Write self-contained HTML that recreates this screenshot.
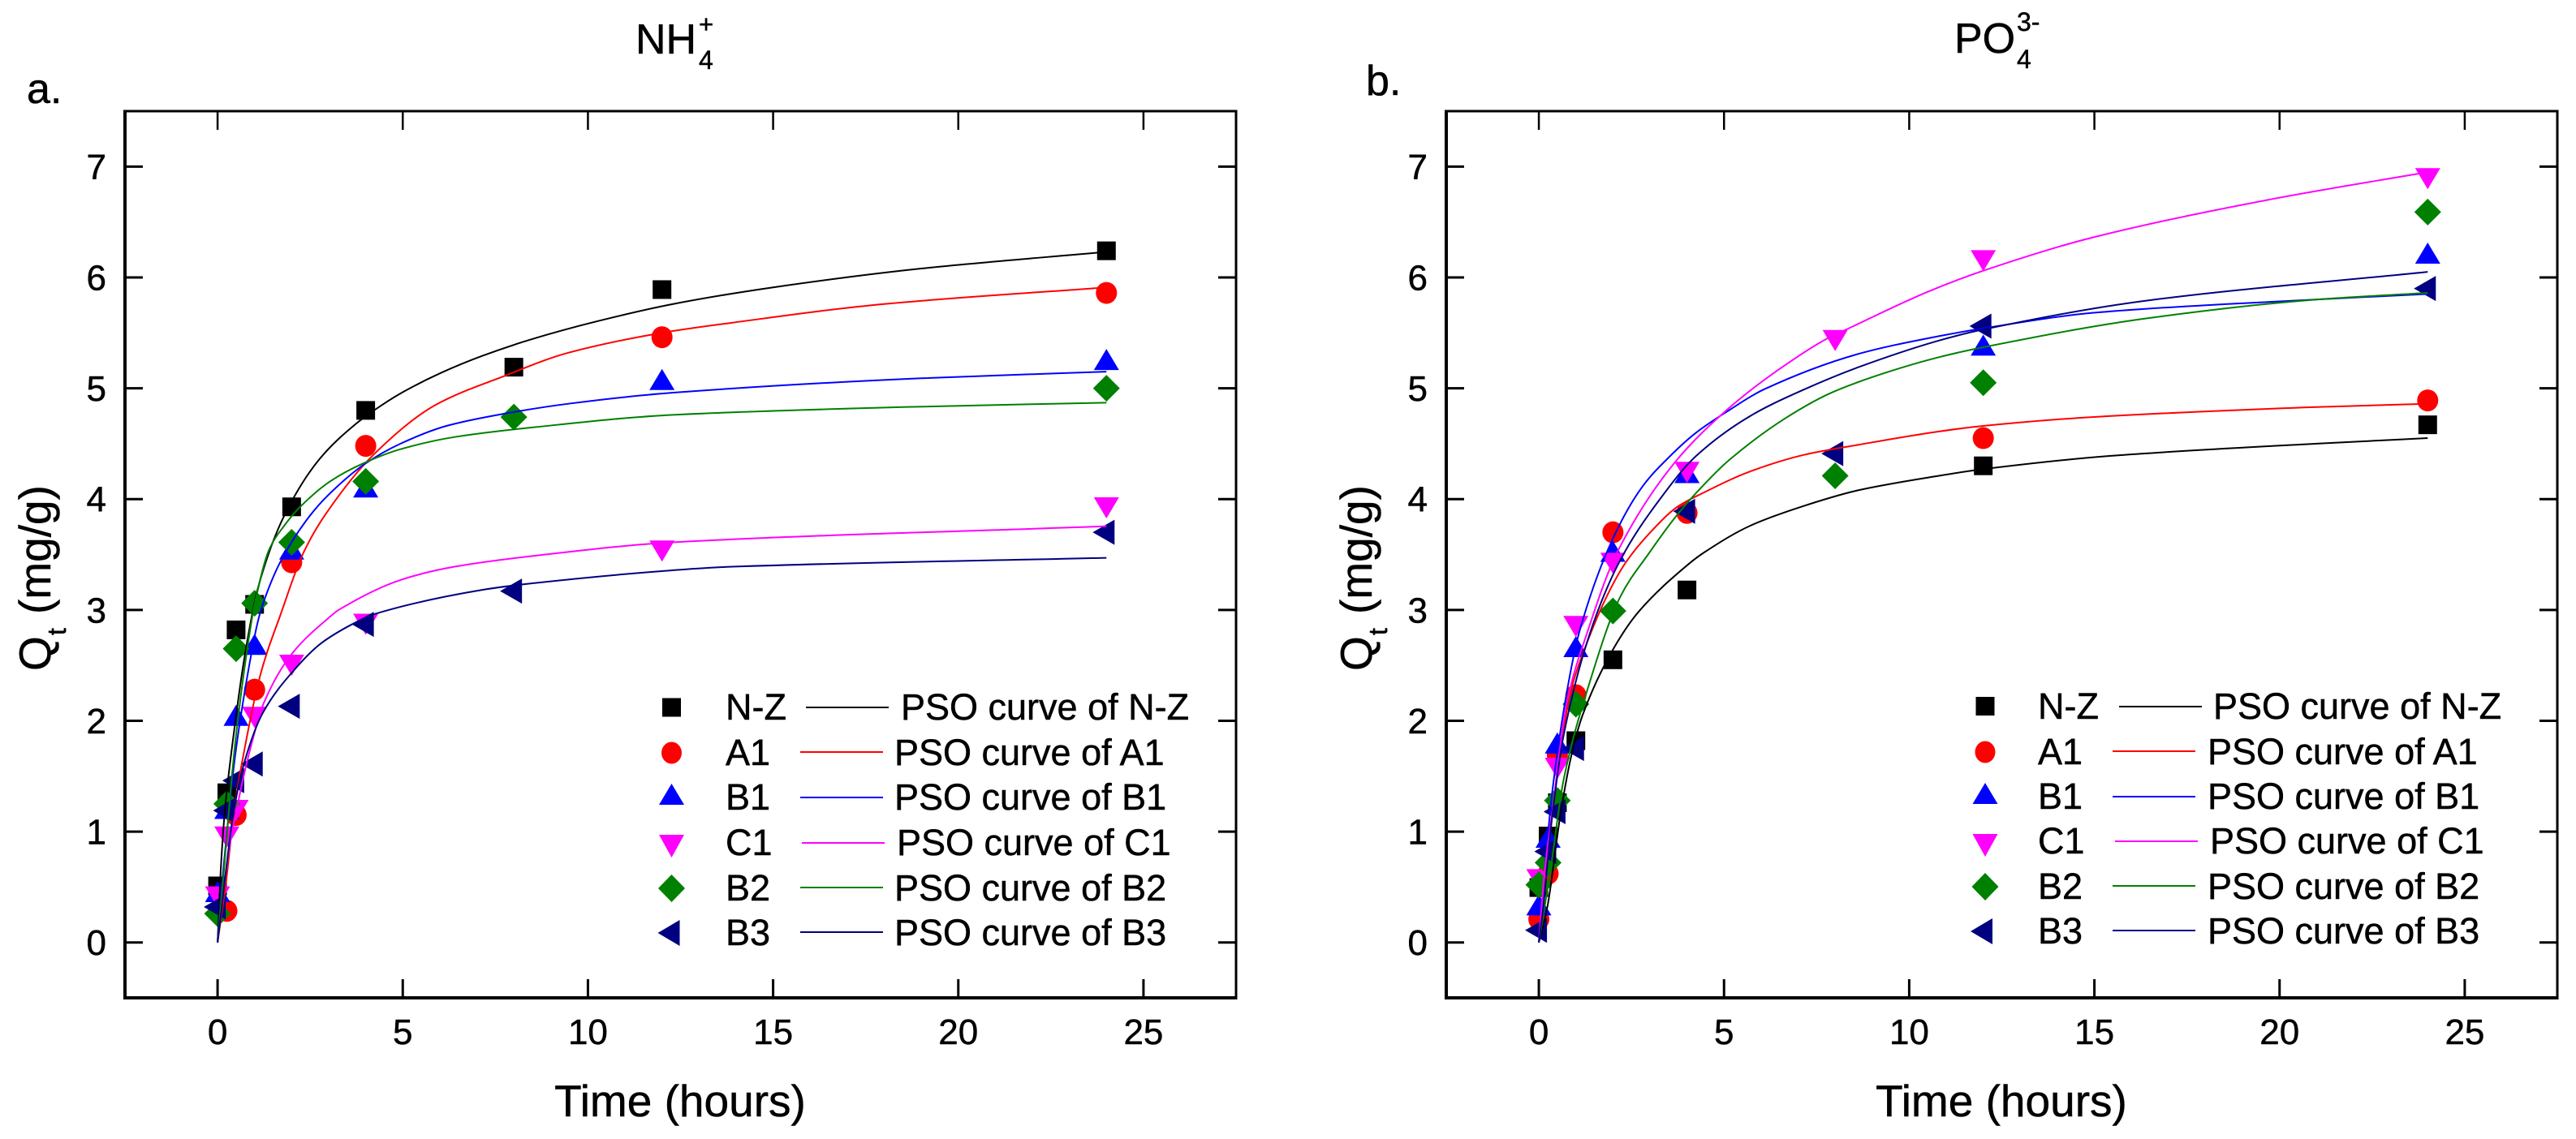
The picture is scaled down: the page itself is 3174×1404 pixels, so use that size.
<!DOCTYPE html>
<html lang="en">
<head>
<meta charset="utf-8">
<title>PSO kinetics of NH4+ and PO4 3- adsorption</title>
<style>
html,body{margin:0;padding:0;background:#fff;width:3174px;height:1404px;overflow:hidden}
svg{display:block}
text{font-family:"Liberation Sans",Arial,sans-serif;fill:#000;stroke:#000;stroke-width:.5px}
</style>
</head>
<body>
<svg id="figure" xmlns="http://www.w3.org/2000/svg" width="3174" height="1404" viewBox="0 0 3174 1404">
  <rect x="0" y="0" width="3174" height="1404" fill="#fff"/>

  <text x="33" y="127" font-size="52">a.</text>
  <text x="1683" y="117" font-size="52">b.</text>

  <g>
    <text x="783" y="66" font-size="52">NH</text>
    <text x="861" y="85" font-size="32">4</text>
    <text x="861" y="40" font-size="31">+</text>
  </g>
  <g>
    <text x="2408" y="65" font-size="52">PO</text>
    <text x="2485" y="84" font-size="32">4</text>
    <text x="2485" y="38" font-size="32">3-</text>
  </g>

  <text x="838" y="1376" font-size="55" text-anchor="middle">Time (hours)</text>
  <text x="2466" y="1376" font-size="55" text-anchor="middle">Time (hours)</text>

  <g transform="translate(62,827) rotate(-90)">
    <text x="0" y="0" font-size="55">Q</text>
    <text x="44" y="19" font-size="32">t</text>
    <text x="70" y="0" font-size="55">(mg/g)</text>
  </g>
  <g transform="translate(1690,827) rotate(-90)">
    <text x="0" y="0" font-size="55">Q</text>
    <text x="44" y="19" font-size="32">t</text>
    <text x="70" y="0" font-size="55">(mg/g)</text>
  </g>

  <g id="plots"></g>

  <g font-size="45">
    <g>
      <rect x="816" y="860.5" width="23" height="23" fill="#000"/>
      <text x="894" y="887" font-size="45">N-Z</text>
      <line x1="993" y1="872" x2="1095" y2="872" stroke="#000" stroke-width="2"/>
      <text x="1110" y="887" font-size="45">PSO curve of N-Z</text>
    </g>
    <g>
      <ellipse cx="827.5" cy="928" rx="12.5" ry="13.5" fill="#f00"/>
      <text x="894" y="943" font-size="45">A1</text>
      <line x1="986" y1="927" x2="1088" y2="927" stroke="#f00" stroke-width="2"/>
      <text x="1102" y="943" font-size="45">PSO curve of A1</text>
    </g>
    <g>
      <polygon points="827.5,966 843,992 812,992" fill="#00f"/>
      <text x="894" y="998" font-size="45">B1</text>
      <line x1="986" y1="983" x2="1088" y2="983" stroke="#00f" stroke-width="2"/>
      <text x="1102" y="998" font-size="45">PSO curve of B1</text>
    </g>
    <g>
      <polygon points="812,1029 843,1029 827.5,1057" fill="#f0f"/>
      <text x="894" y="1054" font-size="45">C1</text>
      <line x1="988" y1="1039" x2="1090" y2="1039" stroke="#f0f" stroke-width="2"/>
      <text x="1105" y="1054" font-size="45">PSO curve of C1</text>
    </g>
    <g>
      <polygon points="827.5,1078 844,1095 827.5,1112 811,1095" fill="#008000"/>
      <text x="894" y="1110" font-size="45">B2</text>
      <line x1="986" y1="1094" x2="1088" y2="1094" stroke="#008000" stroke-width="2"/>
      <text x="1102" y="1110" font-size="45">PSO curve of B2</text>
    </g>
    <g>
      <polygon points="810.5,1150 837.5,1134 837.5,1166" fill="#000080"/>
      <text x="894" y="1165" font-size="45">B3</text>
      <line x1="986" y1="1149" x2="1088" y2="1149" stroke="#000080" stroke-width="2"/>
      <text x="1102" y="1165" font-size="45">PSO curve of B3</text>
    </g>
  </g>

  <g font-size="45">
    <g>
      <rect x="2434.5" y="859" width="23" height="23" fill="#000"/>
      <text x="2511" y="886" font-size="45">N-Z</text>
      <line x1="2611" y1="871" x2="2713" y2="871" stroke="#000" stroke-width="2"/>
      <text x="2727" y="886" font-size="45">PSO curve of N-Z</text>
    </g>
    <g>
      <ellipse cx="2446" cy="927" rx="12.5" ry="13.5" fill="#f00"/>
      <text x="2511" y="942" font-size="45">A1</text>
      <line x1="2603" y1="926" x2="2705" y2="926" stroke="#f00" stroke-width="2"/>
      <text x="2720" y="942" font-size="45">PSO curve of A1</text>
    </g>
    <g>
      <polygon points="2446,965 2461.5,991 2430.5,991" fill="#00f"/>
      <text x="2511" y="997" font-size="45">B1</text>
      <line x1="2603" y1="982" x2="2705" y2="982" stroke="#00f" stroke-width="2"/>
      <text x="2720" y="997" font-size="45">PSO curve of B1</text>
    </g>
    <g>
      <polygon points="2430.5,1028 2461.5,1028 2446,1056" fill="#f0f"/>
      <text x="2511" y="1052" font-size="45">C1</text>
      <line x1="2606" y1="1037" x2="2708" y2="1037" stroke="#f0f" stroke-width="2"/>
      <text x="2723" y="1052" font-size="45">PSO curve of C1</text>
    </g>
    <g>
      <polygon points="2446,1076 2462.5,1093 2446,1110 2429.5,1093" fill="#008000"/>
      <text x="2511" y="1108" font-size="45">B2</text>
      <line x1="2603" y1="1092" x2="2705" y2="1092" stroke="#008000" stroke-width="2"/>
      <text x="2720" y="1108" font-size="45">PSO curve of B2</text>
    </g>
    <g>
      <polygon points="2428,1148 2455,1132 2455,1164" fill="#000080"/>
      <text x="2511" y="1163" font-size="45">B3</text>
      <line x1="2603" y1="1147" x2="2705" y2="1147" stroke="#000080" stroke-width="2"/>
      <text x="2720" y="1163" font-size="45">PSO curve of B3</text>
    </g>
  </g>
</svg>

<script>
// Axis tick labels
const xTickLabels = [0, 5, 10, 15, 20, 25];
const yTickLabels = [0, 1, 2, 3, 4, 5, 6, 7];

// Panel a (NH4+): measured points
const aNzTime = [0, 0.25, 0.5, 1, 2, 4, 8, 12, 24];
const aNzQ = [0.51, 1.35, 2.82, 3.05, 3.93, 4.80, 5.19, 5.89, 6.24];
const aA1Time = [0.25, 0.5, 1, 2, 4, 12, 24];
const aA1Q = [0.285, 1.15, 2.28, 3.43, 4.48, 5.46, 5.86];
const aB1Time = [0, 0.25, 0.5, 1, 2, 4, 12, 24];
const aB1Q = [0.43, 1.18, 2.02, 2.66, 3.52, 4.08, 5.05, 5.23];
const aC1Time = [0, 0.25, 0.5, 1, 2, 4, 12, 24];
const aC1Q = [0.44, 0.98, 1.22, 2.06, 2.53, 2.90, 3.56, 3.95];
const aB2Time = [0, 0.25, 0.5, 1, 2, 4, 8, 24];
const aB2Q = [0.26, 1.25, 2.65, 3.06, 3.61, 4.16, 4.74, 5.00];
const aB3Time = [0, 0.25, 0.5, 1, 2, 4, 8, 24];
const aB3Q = [0.32, 1.19, 1.46, 1.61, 2.13, 2.87, 3.17, 3.70];

// Panel a: PSO curves
const aNzCurveT = [0, 0.09, 0.2, 0.42, 0.745, 1.1, 1.8, 2.75, 3.74, 4.4, 5.03, 6.04, 7.13, 8.46, 10.2, 12.3, 15, 19, 24];
const aNzCurveQ = [0, 0.68, 1.2, 1.84, 2.61, 3.21, 3.85, 4.36, 4.68, 4.84, 4.97, 5.14, 5.29, 5.44, 5.6, 5.76, 5.91, 6.08, 6.23];
const aA1CurveT = [0, 0.23, 0.45, 0.636, 1.11, 1.33, 1.66, 2.31, 2.93, 4.21, 5.89, 7.74, 9.47, 12, 13.87, 18, 24];
const aA1CurveQ = [0, 0.55, 1.2, 1.58, 2.355, 2.61, 2.92, 3.51, 3.87, 4.40, 4.85, 5.11, 5.32, 5.5, 5.59, 5.76, 5.91];
const aB1CurveT = [0, 0.1, 0.27, 0.45, 0.636, 0.855, 1.07, 1.22, 1.69, 2.38, 2.97, 3.99, 4.94, 6.18, 7.57, 9.47, 12.3, 19, 24];
const aB1CurveQ = [0, 0.45, 1.05, 1.62, 2.06, 2.5, 2.87, 3.05, 3.43, 3.8, 4.03, 4.32, 4.5, 4.66, 4.76, 4.86, 4.96, 5.09, 5.15];
const aC1CurveT = [0, 0.12, 0.31, 0.56, 0.855, 1.26, 2.02, 3.04, 3.27, 4.94, 6.4, 8.6, 12.3, 24];
const aC1CurveQ = [0, 0.35, 0.84, 1.275, 1.71, 2.17, 2.61, 2.94, 3.0, 3.27, 3.39, 3.49, 3.61, 3.755];
const aB2CurveT = [0, 0.16, 0.34, 0.49, 0.78, 1.0, 1.4, 1.8, 2.23, 3.04, 3.92, 4.94, 6.4, 8.6, 12.3, 18.5, 24];
const aB2CurveQ = [0, 0.6, 1.33, 1.84, 2.6, 3.05, 3.55, 3.76, 3.93, 4.16, 4.32, 4.45, 4.56, 4.65, 4.76, 4.83, 4.87];
const aB3CurveT = [0, 0.09, 0.23, 0.42, 0.71, 1.22, 2.1, 2.8, 3.63, 4.21, 7.13, 8.5, 12, 13.9, 24];
const aB3CurveQ = [0, 0.25, 0.66, 1.15, 1.61, 2.07, 2.47, 2.7, 2.87, 2.96, 3.18, 3.24, 3.35, 3.39, 3.47];

// Panel b (PO4 3-): measured points
const bNzTime = [0, 0.25, 0.5, 1, 2, 4, 12, 24];
const bNzQ = [0.495, 0.96, 1.26, 1.82, 2.55, 3.18, 4.30, 4.67];
const bA1Time = [0, 0.25, 0.5, 1, 2, 4, 12, 24];
const bA1Q = [0.21, 0.62, 1.69, 2.23, 3.70, 3.875, 4.55, 4.89];
const bB1Time = [0, 0.25, 0.5, 1, 2, 4, 12, 24];
const bB1Q = [0.31, 0.92, 1.77, 2.64, 3.50, 4.21, 5.36, 6.19];
const bC1Time = [0, 0.5, 1, 2, 4, 8, 12, 24];
const bC1Q = [0.595, 1.6, 2.88, 3.45, 4.27, 5.46, 6.18, 6.92];
const bB2Time = [0, 0.25, 0.5, 1, 2, 8, 12, 24];
const bB2Q = [0.52, 0.72, 1.28, 2.15, 2.99, 4.21, 5.05, 6.59];
const bB3Time = [0, 0.25, 0.5, 1, 4, 8, 12, 24];
const bB3Q = [0.11, 0.82, 1.18, 1.75, 3.89, 4.41, 5.56, 5.90];

// Panel b: PSO curves
const bNzCurveT = [0, 0.23, 0.59, 0.88, 1.18, 1.98, 2.71, 4.03, 4.47, 5.71, 7.17, 8.63, 10.8, 12, 15.45, 21, 24];
const bNzCurveQ = [0, 0.32, 1.17, 1.69, 2.05, 2.63, 2.99, 3.41, 3.52, 3.76, 3.94, 4.08, 4.21, 4.27, 4.39, 4.5, 4.55];
const bA1CurveT = [0, 0.15, 0.34, 0.59, 0.88, 1.25, 1.83, 2.35, 3.01, 3.74, 4.4, 5.71, 7.17, 8.63, 10.8, 12, 14.95, 21, 24];
const bA1CurveQ = [0, 0.47, 1.08, 1.75, 2.29, 2.66, 3.12, 3.43, 3.7, 3.93, 4.05, 4.25, 4.4, 4.49, 4.61, 4.66, 4.74, 4.83, 4.86];
const bB1CurveT = [0, 0.15, 0.37, 0.74, 1.1, 1.98, 2.79, 3.52, 4.25, 5.13, 6.08, 8.63, 10.8, 12, 14.95, 18.6, 24];
const bB1CurveQ = [0, 0.62, 1.38, 2.23, 2.81, 3.63, 4.11, 4.38, 4.6, 4.8, 4.99, 5.31, 5.47, 5.54, 5.68, 5.76, 5.85];
const bC1CurveT = [0, 0.15, 0.37, 0.74, 1.32, 2.13, 3.67, 5.13, 6.44, 7.79, 8.3, 10.5, 12, 14.95, 19.85, 24];
const bC1CurveQ = [0, 0.62, 1.2, 2.14, 2.81, 3.53, 4.33, 4.82, 5.16, 5.45, 5.53, 5.87, 6.06, 6.36, 6.71, 6.95];
const bB2CurveT = [0, 0.3, 0.67, 1.32, 2.2, 2.97, 3.74, 4.4, 5.13, 6.66, 7.9, 9.36, 10.8, 12, 16.4, 21, 24];
const bB2CurveQ = [0, 0.62, 1.47, 2.29, 3.12, 3.51, 3.86, 4.11, 4.35, 4.73, 4.96, 5.14, 5.28, 5.37, 5.63, 5.8, 5.86];
const bB3CurveT = [0, 0.12, 0.34, 0.67, 1.4, 2.2, 3.16, 4.25, 5.71, 7.17, 8.63, 10.8, 12, 16.4, 24];
const bB3CurveQ = [0, 0.32, 1.08, 1.87, 2.81, 3.45, 3.95, 4.39, 4.75, 4.99, 5.19, 5.43, 5.53, 5.79, 6.05];

const SVGNS = 'http://www.w3.org/2000/svg';
const plots = document.getElementById('plots');

function el(tag, attrs, parent) {
  const node = document.createElementNS(SVGNS, tag);
  for (const k in attrs) node.setAttribute(k, attrs[k]);
  parent.appendChild(node);
  return node;
}

// Monotone cubic through the read curve points
function curvePath(ts, qs, sx, sy) {
  const n = ts.length;
  const d = [], m = [];
  for (let i = 0; i < n - 1; i++) d.push((qs[i + 1] - qs[i]) / (ts[i + 1] - ts[i]));
  m[0] = d[0];
  m[n - 1] = d[n - 2];
  for (let i = 1; i < n - 1; i++) {
    m[i] = d[i - 1] * d[i] <= 0 ? 0 : 2 * d[i - 1] * d[i] / (d[i - 1] + d[i]);
  }
  let path = 'M' + sx(ts[0]).toFixed(2) + ' ' + sy(qs[0]).toFixed(2);
  for (let i = 0; i < n - 1; i++) {
    const h = (ts[i + 1] - ts[i]) / 3;
    path += 'C' + sx(ts[i] + h).toFixed(2) + ' ' + sy(qs[i] + m[i] * h).toFixed(2) + ' ' +
      sx(ts[i + 1] - h).toFixed(2) + ' ' + sy(qs[i + 1] - m[i + 1] * h).toFixed(2) + ' ' +
      sx(ts[i + 1]).toFixed(2) + ' ' + sy(qs[i + 1]).toFixed(2);
  }
  return path;
}

function drawMarker(kind, x, y, color, parent) {
  if (kind === 'square') return el('rect', {x: x - 11.5, y: y - 11.5, width: 23, height: 23, fill: color}, parent);
  if (kind === 'circle') return el('ellipse', {cx: x, cy: y, rx: 13, ry: 13.5, fill: color}, parent);
  let pts;
  if (kind === 'up') pts = [[x, y - 17], [x + 15.5, y + 9], [x - 15.5, y + 9]];
  if (kind === 'down') pts = [[x - 15.5, y - 9], [x + 15.5, y - 9], [x, y + 17]];
  if (kind === 'diamond') pts = [[x, y - 16.5], [x + 16.5, y], [x, y + 16.5], [x - 16.5, y]];
  if (kind === 'left') pts = [[x - 17, y], [x + 10, y - 15.5], [x + 10, y + 15.5]];
  return el('polygon', {points: pts.map(p => p.join(',')).join(' '), fill: color}, parent);
}

function drawPanel(id, left, right, top, bottom, series) {
  const xMin = -2.5, xMax = 27.5, yMin = -0.5, yMax = 7.5;
  const sx = t => left + (t - xMin) / (xMax - xMin) * (right - left);
  const sy = q => bottom - (q - yMin) / (yMax - yMin) * (bottom - top);

  const panel = el('g', {}, plots);
  
  

  // markers first, curves above them
  series.forEach(s => {
    const group = el('g', {}, panel);
    
    
    s.time.forEach((t, i) => {
      const mark = drawMarker(s.marker, sx(t), sy(s.q[i]), s.color, group);
      
      
    });
  });
  series.forEach(s => {
    const line = el('path', {d: curvePath(s.curveT, s.curveQ, sx, sy), fill: 'none', stroke: s.color, 'stroke-width': 2}, panel);
    
    
  });

  // frame
  const frame = el('g', {stroke: '#000', fill: 'none'}, panel);
  
  
  el('line', {x1: left, y1: top - 1.5, x2: left, y2: bottom + 2, 'stroke-width': 4}, frame);
  el('line', {x1: right, y1: top - 1.5, x2: right, y2: bottom + 2, 'stroke-width': 3}, frame);
  el('line', {x1: left - 2, y1: top, x2: right + 1.5, y2: top, 'stroke-width': 3}, frame);
  el('line', {x1: left - 2, y1: bottom, x2: right + 1.5, y2: bottom, 'stroke-width': 4}, frame);

  // x axis
  const xAxis = el('g', {}, panel);
  
  
  xTickLabels.forEach(v => {
    const x = sx(v);
    el('line', {x1: x, y1: bottom, x2: x, y2: bottom - 23, stroke: '#000', 'stroke-width': 3}, xAxis);
    el('line', {x1: x, y1: top, x2: x, y2: top + 23, stroke: '#000', 'stroke-width': 2.5}, xAxis);
    const label = el('text', {x: x, y: 1287, 'font-size': 44, 'text-anchor': 'middle'}, xAxis);
    label.textContent = v;
    
    
  });

  // y axis
  const yAxis = el('g', {}, panel);
  
  
  yTickLabels.forEach(v => {
    const y = sy(v);
    el('line', {x1: left, y1: y, x2: left + 22, y2: y, stroke: '#000', 'stroke-width': 3}, yAxis);
    el('line', {x1: right, y1: y, x2: right - 22, y2: y, stroke: '#000', 'stroke-width': 3}, yAxis);
    const label = el('text', {x: left - 23, y: y + 15.5, 'font-size': 44, 'text-anchor': 'end'}, yAxis);
    label.textContent = v;
    
    
  });
}

drawPanel('a', 154, 1523, 137, 1230, [
  {key: 'n-z', marker: 'square', color: '#000', time: aNzTime, q: aNzQ, curveT: aNzCurveT, curveQ: aNzCurveQ},
  {key: 'a1', marker: 'circle', color: '#f00', time: aA1Time, q: aA1Q, curveT: aA1CurveT, curveQ: aA1CurveQ},
  {key: 'b1', marker: 'up', color: '#00f', time: aB1Time, q: aB1Q, curveT: aB1CurveT, curveQ: aB1CurveQ},
  {key: 'c1', marker: 'down', color: '#f0f', time: aC1Time, q: aC1Q, curveT: aC1CurveT, curveQ: aC1CurveQ},
  {key: 'b2', marker: 'diamond', color: '#008000', time: aB2Time, q: aB2Q, curveT: aB2CurveT, curveQ: aB2CurveQ},
  {key: 'b3', marker: 'left', color: '#000080', time: aB3Time, q: aB3Q, curveT: aB3CurveT, curveQ: aB3CurveQ}
]);

drawPanel('b', 1782, 3151, 137, 1230, [
  {key: 'n-z', marker: 'square', color: '#000', time: bNzTime, q: bNzQ, curveT: bNzCurveT, curveQ: bNzCurveQ},
  {key: 'a1', marker: 'circle', color: '#f00', time: bA1Time, q: bA1Q, curveT: bA1CurveT, curveQ: bA1CurveQ},
  {key: 'b1', marker: 'up', color: '#00f', time: bB1Time, q: bB1Q, curveT: bB1CurveT, curveQ: bB1CurveQ},
  {key: 'c1', marker: 'down', color: '#f0f', time: bC1Time, q: bC1Q, curveT: bC1CurveT, curveQ: bC1CurveQ},
  {key: 'b2', marker: 'diamond', color: '#008000', time: bB2Time, q: bB2Q, curveT: bB2CurveT, curveQ: bB2CurveQ},
  {key: 'b3', marker: 'left', color: '#000080', time: bB3Time, q: bB3Q, curveT: bB3CurveT, curveQ: bB3CurveQ}
]);
</script>
</body>
</html>
